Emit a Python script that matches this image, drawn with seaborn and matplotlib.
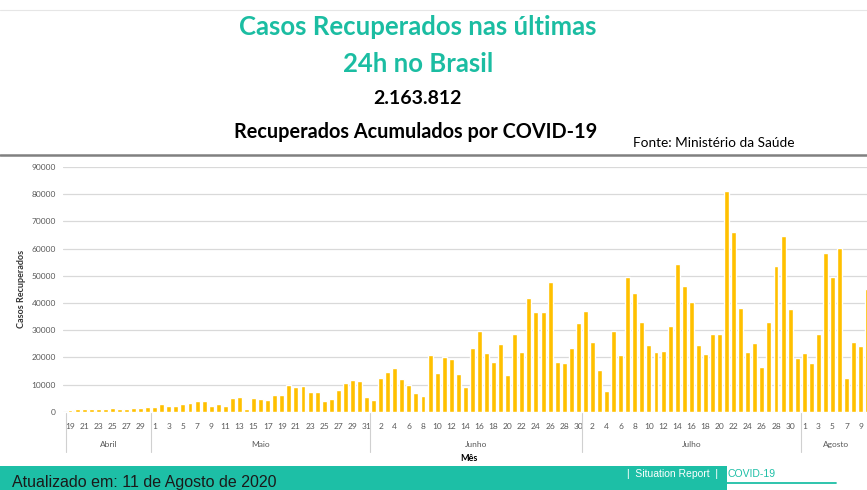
import numpy as np
import pandas as pd
import matplotlib
matplotlib.use("Agg")
import matplotlib.pyplot as plt
import seaborn as sns
from matplotlib.lines import Line2D
from matplotlib.patches import Rectangle

# casos recuperados por dia (19/abr a 10/ago)
meses = ["Abril", "Maio", "Junho", "Julho", "Agosto"]
primeiro_dia = [19, 1, 1, 1, 1]
abril = [500, 1000, 1100, 1000, 1000, 1000, 1200, 1000, 1000, 1300, 1500, 1600]
maio = [1800, 2800, 2000, 2000, 2900, 3100, 3900, 3800, 2200, 2900, 2100,
        5000, 5500, 950, 5200, 4600, 4300, 6000, 6000, 9900, 9100, 9400,
        7100, 7200, 3800, 4500, 7800, 10700, 11800, 11400, 5500]
junho = [4300, 12500, 14700, 16200, 11900, 10000, 6700, 5900, 20800, 14100,
         20100, 19300, 13900, 9100, 23600, 29500, 21500, 18400, 25000, 13400,
         28500, 22100, 41900, 36700, 36700, 47800, 18100, 17800, 23400, 32700]
julho = [37000, 25800, 15400, 7700, 29700, 20700, 49700, 43600, 32900, 24500,
         22000, 22200, 31500, 54200, 46300, 40500, 24500, 21200, 28600, 28600,
         81300, 66000, 38000, 21800, 25200, 16600, 33100, 53600, 64700, 37700,
         19600]
agosto = [21500, 17800, 28600, 58300, 49700, 60100, 12300, 25800, 24200, 45000]
y_ticks = [0, 10000, 20000, 30000, 40000, 50000, 60000, 70000, 80000, 90000]

series = [abril, maio, junho, julho, agosto]
rows = []
for mes, d0, vals in zip(meses, primeiro_dia, series):
    for k, v in enumerate(vals):
        rows.append({"mes": mes, "dia": d0 + k, "chave": f"{mes}-{d0 + k}", "casos": v})
df = pd.DataFrame(rows)
n = len(df)

AMARELO = "#FFC000"
TEAL = "#1BBDA2"
CINZA = "#595959"

sns.set_style("white")
plt.rcParams["font.family"] = ["Lato", "DejaVu Sans"]

fig = plt.figure(figsize=(8.67, 4.9), dpi=100)
ax = fig.add_axes([63 / 867, 78.3 / 490, 837 / 867, 244.7 / 490])

sns.barplot(data=df, x="chave", y="casos", color=AMARELO, saturation=1,
            width=0.7, errorbar=None, ax=ax, zorder=3)

ax.set_ylim(0, 90000)
ax.set_xlim(-0.99, 117.56)
ax.set_yticks(y_ticks)
ax.set_yticklabels([str(t) for t in y_ticks], fontsize=6, color=CINZA)
ax.set_xticks(range(0, n, 2))
ax.set_xticklabels(df["dia"].iloc[::2].astype(str), fontsize=6, color=CINZA)
ax.tick_params(axis="both", length=0)
ax.tick_params(axis="x", pad=8)
ax.tick_params(axis="y", pad=5)
ax.yaxis.grid(True, color="#d9d9d9", lw=0.9, zorder=0)
ax.set_axisbelow(True)
for s in ax.spines.values():
    s.set_visible(False)
ax.set_xlabel("")
ax.set_ylabel("")

# separadores e nomes dos meses
trans = ax.get_xaxis_transform()
inicio = 0
for mes, vals in zip(meses, series):
    fim = inicio + len(vals)
    ax.add_line(Line2D([inicio - 0.5, inicio - 0.5], [-0.005, -0.165], transform=trans,
                       color="#d0d0d0", lw=0.8, clip_on=False))
    ax.text((inicio + fim - 1) / 2, -0.132, mes, transform=trans, ha="center",
            va="center", fontsize=6, color=CINZA)
    inicio = fim

fig.text(469 / 867, 1 - 458 / 490, "Mês", ha="center", va="center",
         fontsize=6.5, fontweight="bold", color="black")
fig.text(22 / 867, 1 - 289 / 490, "Casos Recuperados", rotation=90, ha="center",
         va="center", fontsize=6.5, fontweight="bold", color="#333333")

# cabeçalho
fig.add_artist(Line2D([0, 1], [1 - 10 / 490, 1 - 10 / 490], color="#e6e6e6", lw=0.8))
fig.add_artist(Line2D([0, 1], [1 - 155 / 490, 1 - 155 / 490], color="#808080", lw=1.8))
fig.text(418 / 867, 1 - 27 / 490, "Casos Recuperados nas últimas", ha="center",
         va="center", fontsize=18.5, fontweight="bold", color=TEAL)
fig.text(418 / 867, 1 - 64 / 490, "24h no Brasil", ha="center", va="center",
         fontsize=18.5, fontweight="bold", color=TEAL)
fig.text(417 / 867, 1 - 99 / 490, "2.163.812", ha="center", va="center",
         fontsize=14, fontweight="bold", color="black")
fig.text(416 / 867, 1 - 132 / 490, "Recuperados Acumulados por COVID-19", ha="center",
         va="center", fontsize=14.3, fontweight="bold", color="black")
fig.text(633 / 867, 1 - 143 / 490, "Fonte: Ministério da Saúde", ha="left",
         va="center", fontsize=9.8, color="black")

# rodapé
fig.add_artist(Rectangle((0, 0), 727 / 867, 24 / 490, transform=fig.transFigure,
                         facecolor="#1DBFA6", edgecolor="none"))
fig.text(12 / 867, 3 / 490, "Atualizado em: 11 de Agosto de 2020", ha="left",
         va="baseline", fontsize=11.5, color="#1a1a1a", family=["Liberation Sans"])
fig.text(718 / 867, 1 - 474 / 490, "|  Situation Report  |", ha="right", va="center",
         fontsize=7.5, color="white", family=["Liberation Sans"])
fig.text(728 / 867, 1 - 474 / 490, "COVID-19", ha="left", va="center",
         fontsize=7.5, color="#1DBFA6", family=["Liberation Sans"])
fig.add_artist(Line2D([727 / 867, 836 / 867], [1 - 483 / 490, 1 - 483 / 490],
                      color="#1DBFA6", lw=1.3))

fig.savefig("out.png", dpi=100)
plt.close(fig)
